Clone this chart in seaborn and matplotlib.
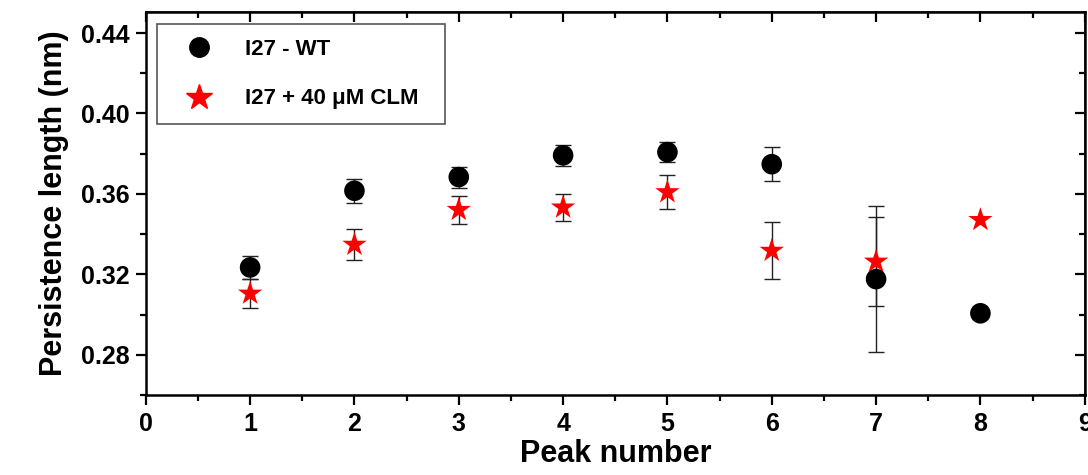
import numpy as np
import pandas as pd
import matplotlib
matplotlib.use("Agg")
import matplotlib.pyplot as plt
from matplotlib.ticker import MultipleLocator
import seaborn as sns

# Persistence length per unfolding peak
peaks_wt = [1, 2, 3, 4, 5, 6, 7, 8]
lp_wt = [0.3235, 0.3616, 0.3684, 0.3792, 0.3808, 0.3748, 0.3177, 0.3007]
err_wt = [0.0057, 0.0059, 0.0052, 0.0053, 0.0050, 0.0083, 0.0362, 0.0]

peaks_clm = [1, 2, 3, 4, 5, 6, 7, 8]
lp_clm = [0.3105, 0.3348, 0.3521, 0.3533, 0.3609, 0.3318, 0.3264, 0.3471]
err_clm = [0.0070, 0.0078, 0.0070, 0.0067, 0.0085, 0.0141, 0.0220, 0.0]

label_wt = "I27 - WT"
label_clm = "I27 + 40 \u03bcM CLM"

sns.set_theme(style="white")
plt.rcParams["font.family"] = ["Liberation Sans", "DejaVu Sans"]
plt.rcParams["font.weight"] = "bold"
plt.rcParams["text.color"] = "black"
plt.rcParams["axes.labelcolor"] = "black"
plt.rcParams["xtick.color"] = "black"
plt.rcParams["ytick.color"] = "black"

fig = plt.figure(figsize=(10.88, 4.75), dpi=100)
ax = fig.add_axes([0.134, 0.168, 0.863, 0.807])

df = pd.concat([
    pd.DataFrame({"peak": peaks_clm, "lp": lp_clm, "err": err_clm, "sample": label_clm}),
    pd.DataFrame({"peak": peaks_wt, "lp": lp_wt, "err": err_wt, "sample": label_wt}),
])

err_kw = dict(fmt="none", ecolor="#222222", elinewidth=1.0, capsize=6, capthick=1.0, zorder=2)
for peaks, vals, errs in ((peaks_clm, lp_clm, err_clm), (peaks_wt, lp_wt, err_wt)):
    p = [x for x, e in zip(peaks, errs) if e > 0]
    v = [y for y, e in zip(vals, errs) if e > 0]
    e = [e for e in errs if e > 0]
    ax.errorbar(p, v, yerr=e, **err_kw)

sns.scatterplot(data=df, x="peak", y="lp", hue="sample", style="sample",
                hue_order=[label_wt, label_clm], style_order=[label_wt, label_clm],
                palette={label_wt: "black", label_clm: "#ff0000"},
                markers={label_wt: "o", label_clm: "*"},
                size="sample", sizes={label_wt: 220, label_clm: 340},
                edgecolor="none", linewidth=0, ax=ax, zorder=3, legend=False)

ax.set_xlim(0, 9)
ax.set_ylim(0.26, 0.4505)
ax.xaxis.set_major_locator(MultipleLocator(1))
ax.xaxis.set_minor_locator(MultipleLocator(0.5))
ax.yaxis.set_minor_locator(MultipleLocator(0.02))
ax.set_yticks([0.28, 0.32, 0.36, 0.40, 0.44])
ax.set_yticklabels(["0.28", "0.32", "0.36", "0.40", "0.44"])

for s in ax.spines.values():
    s.set_visible(True)
    s.set_color("black")
    s.set_linewidth(1.8)

ax.tick_params(which="both", direction="out", color="black", width=1.6,
               bottom=True, left=True, top=False, right=False)
ax.tick_params(which="major", length=7, labelsize=18, pad=5)
ax.tick_params(which="minor", length=4)
for lbl in ax.get_xticklabels() + ax.get_yticklabels():
    lbl.set_fontweight("bold")

# mirrored inward ticks on top and right
axt = ax.secondary_xaxis("top")
axt.xaxis.set_major_locator(MultipleLocator(1))
axt.xaxis.set_minor_locator(MultipleLocator(0.5))
axt.tick_params(which="both", direction="in", width=1.6, labeltop=False)
axt.tick_params(which="major", length=7)
axt.tick_params(which="minor", length=4)
axr = ax.secondary_yaxis("right")
axr.yaxis.set_minor_locator(MultipleLocator(0.02))
axr.set_yticks([0.28, 0.32, 0.36, 0.40, 0.44])
axr.tick_params(which="both", direction="in", width=1.6, labelright=False)
axr.tick_params(which="major", length=7)
axr.tick_params(which="minor", length=4)

ax.set_xlabel("Peak number", fontsize=22, fontweight="bold", labelpad=2)
ax.set_ylabel("Persistence length (nm)", fontsize=22, fontweight="bold", labelpad=8)

handles = [
    plt.Line2D([], [], ls="none", marker="o", color="black", markersize=14),
    plt.Line2D([], [], ls="none", marker="*", color="#ff0000", markersize=19),
]
leg = ax.legend(handles, [label_wt + "  ", label_clm + "  "], loc="upper left",
                bbox_to_anchor=(0.012, 0.968), frameon=True, fancybox=False,
                edgecolor="#555555", framealpha=1, borderpad=0.65,
                labelspacing=1.3, handletextpad=0.8, borderaxespad=0,
                prop={"size": 16, "weight": "bold"}, handlelength=2.5)
leg.get_frame().set_linewidth(1.2)

fig.savefig("out.png", dpi=100)
